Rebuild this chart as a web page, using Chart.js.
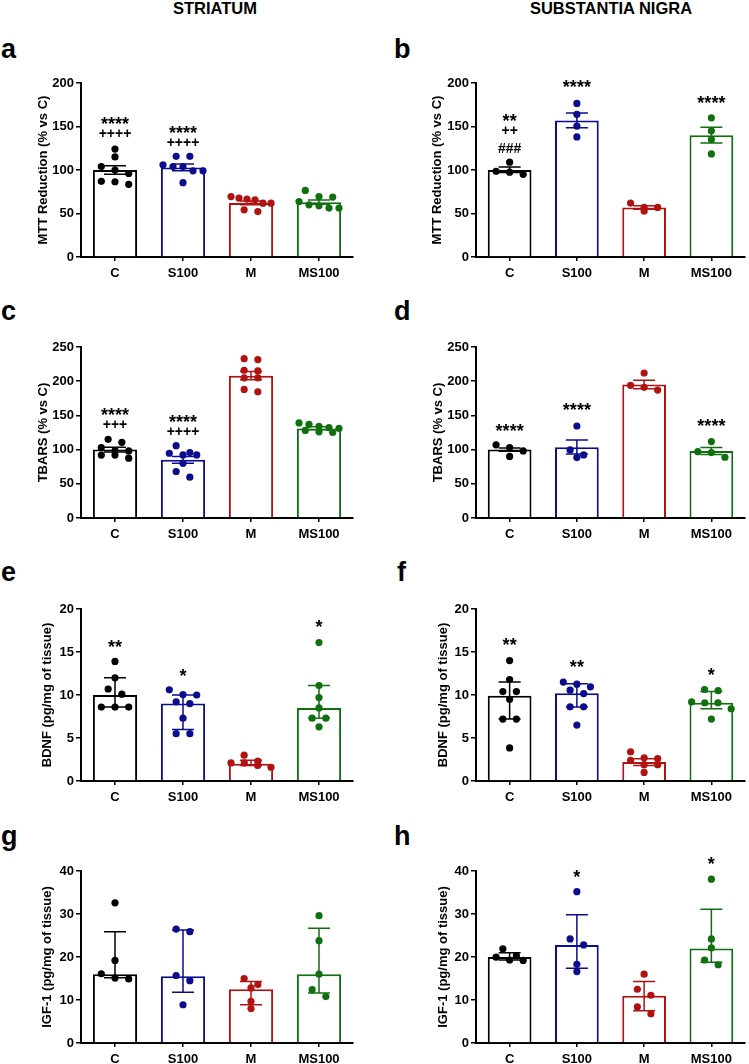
<!DOCTYPE html>
<html>
<head>
<meta charset="utf-8">
<script src="https://cdn.jsdelivr.net/npm/chart.js@4.4.1/dist/chart.umd.min.js"></script>
<style>
  body { margin: 0; background: #fff; width: 749px; height: 1064px; position: relative; overflow: hidden;
         font-family: "Liberation Sans", Arial, sans-serif; color: #000; }
  .hdr { position: absolute; top: 0; font-weight: bold; font-size: 16.5px; line-height: 1; transform: translateX(-50%); white-space: nowrap; }
  .lbl { position: absolute; font-weight: bold; font-size: 27px; line-height: 1; }
  canvas { position: absolute; }
</style>
</head>
<body>
<div class="hdr" style="left:215px">STRIATUM</div>
<div class="hdr" style="left:611px">SUBSTANTIA NIGRA</div>
<div class="lbl" style="left:1px;top:36px">a</div>
<div class="lbl" style="left:394px;top:36px">b</div>
<div class="lbl" style="left:1px;top:298px">c</div>
<div class="lbl" style="left:394px;top:298px">d</div>
<div class="lbl" style="left:1px;top:559px">e</div>
<div class="lbl" style="left:397px;top:559px">f</div>
<div class="lbl" style="left:1px;top:823px">g</div>
<div class="lbl" style="left:394px;top:823px">h</div>

<script>
// Groups
const categories = ['C', 'S100', 'M', 'MS100'];
const groupColors = ['#000000', '#0c0c8e', '#b01212', '#10700f'];

// a - striatum, MTT reduction (mean +/- SEM)
const aMean = [100, 103, 62, 63];
const aLo = [95, 99, 60, 60.7];
const aHi = [105, 107, 64.3, 65.5];
const aPoints = [
  [124, 115, 104, 100, 96, 87, 86.5, 83.5],
  [115.7, 115.7, 106, 104, 104, 99, 99, 85.4],
  [69.5, 67.7, 66.5, 65.7, 61.9, 61.9, 54.2, 52.2],
  [76.5, 69.5, 68.9, 63.8, 60, 58.8, 56.2, 56.2]
];
const aMarks = [[['****', 158.5], ['++++', 142]], [['****', 148], ['++++', 132]], [], []];

// b - substantia nigra, MTT reduction
const bMean = [100, 157, 57, 140];
const bLo = [97, 148.5, 55, 131];
const bHi = [103.5, 165.5, 59, 149];
const bPoints = [
  [109, 98.5, 97.5, 95],
  [176.5, 164, 150.5, 138],
  [62, 57, 57, 53],
  [160, 145, 135, 118.5]
];
const bMarks = [[['**', 161.4], ['++', 145.6], ['###', 125.5]], [['****', 200]], [], [['****', 182.6]]];

// c - striatum, TBARS
const cMean = [100, 85, 208, 131];
const cLo = [96.5, 80, 202, 129];
const cHi = [103.5, 90, 214, 133.5];
const cPoints = [
  [115, 110.7, 103, 98.5, 98, 92, 92, 87.4],
  [105.8, 95.6, 94.7, 92.2, 92.2, 80, 68, 59.7],
  [233, 231.6, 216, 215, 205, 205, 188, 184.5],
  [139, 137, 134, 132, 131, 128, 126, 125]
];
const cMarks = [[['****', 157.8], ['+++', 137.4]], [['****', 146.6], ['++++', 126.2]], [], []];

// d - substantia nigra, TBARS
const dMean = [100, 103.5, 195, 98];
const dLo = [97.5, 93.5, 189, 93];
const dHi = [102.5, 114, 201.5, 103];
const dPoints = [
  [107, 103, 98, 90],
  [134.5, 99.5, 92.2, 88.3],
  [212, 194, 191, 187],
  [111.7, 97, 95.6, 88.8]
];
const dMarks = [[['****', 133.5]], [['****', 165]], [], [['****', 140.8]]];

// e - striatum, BDNF (median, interquartile range)
const eMean = [10, 9, 2, 8.5];
const eLo = [8.6, 6, 1.8, 7.3];
const eHi = [12, 10, 2.4, 11.1];
const ePoints = [
  [13.9, 12, 10.7, 10.1, 8.6, 8.6, 8.6],
  [10.6, 10.05, 10, 9.2, 9, 7.3, 5.5, 5.5],
  [3.0, 2.3, 2.1, 2.1, 1.8, 1.6],
  [16.1, 11.1, 9.7, 8.5, 7.3, 7.3, 6.3]
];
const eMarks = [[['**', 16.1]], [['*', 12.7]], [], [['*', 18.4]]];

// f - substantia nigra, BDNF
const fMean = [9.9, 10.2, 2.2, 9.1];
const fLo = [7.2, 8.6, 1.8, 8.4];
const fHi = [11.5, 11.3, 2.6, 10.4];
const fPoints = [
  [14, 11.8, 10.4, 10.4, 9.5, 7.2, 7.2, 3.85],
  [11.5, 11.26, 10.95, 10.56, 10.17, 8.62, 8.62, 6.5],
  [3.4, 2.7, 2.6, 2.4, 1.9, 1.9, 1.0],
  [10.64, 10.5, 9.2, 9.1, 9.1, 8.4, 7.2]
];
const fMarks = [[['**', 16.3]], [['**', 13.8]], [], [['*', 12.9]]];

// g - striatum, IGF-1
const gMean = [16, 15.5, 12.5, 16];
const gLo = [15.2, 11.8, 8.9, 11.6];
const gHi = [25.9, 26.3, 14.3, 26.7];
const gPoints = [
  [32.6, 19.2, 16.1, 15.1, 14.9],
  [26.5, 25.9, 15.7, 14.5, 8.9],
  [15.0, 13.6, 12.8, 9.7, 8.0],
  [29.6, 23.8, 16.0, 12.4, 10.8]
];
const gMarks = [[], [], [], []];

// h - substantia nigra, IGF-1
const hMean = [20, 22.8, 11, 22];
const hLo = [19.3, 17.4, 7.5, 18.8];
const hHi = [21, 29.8, 14.3, 31.1];
const hPoints = [
  [21.9, 20.3, 19.96, 19.3, 19.2],
  [35.2, 24.2, 22.8, 18.3, 16.6],
  [16.0, 12.5, 11.1, 8.4, 6.8],
  [38.1, 24.2, 22.1, 19.3, 18.2]
];
const hMarks = [[], [['*', 39.7]], [], [['*', 42.6]]];

// y axes: max and tick step per row
const yMaxes = { ab: 200, cd: 250, ef: 20, gh: 40 };
const ySteps = { ab: 50, cd: 50, ef: 5, gh: 10 };
const yTitles = {
  ab: 'MTT Reduction (% vs C)',
  cd: 'TBARS (% vs C)',
  ef: 'BDNF (pg/mg of tissue)',
  gh: 'IGF-1 (pg/mg of tissue)'
};

Chart.defaults.font.family = '"Liberation Sans", Arial, sans-serif';
Chart.defaults.font.weight = 'bold';
Chart.defaults.font.size = 13;
Chart.defaults.color = '#000';

// page geometry of the plot boxes
const rowTop = [83, 347, 609, 871];
const rowZero = [257, 518, 781, 1043];
const colX = [0, 375];
const colW = [375, 374];
const plotX = [[81, 353], [476, 748]];

// spread points of similar value side by side, centred on the group
function swarm(values, pxPerUnit, catPx) {
  const order = values.map((v, i) => i).sort((p, q) => values[q] - values[p]);
  const offs = new Array(values.length).fill(0);
  let row = [];
  const flush = () => {
    const step = row.length > 1 ? Math.min(13.7, 40 / (row.length - 1)) : 0;
    row.forEach((idx, k) => { offs[idx] = (k - (row.length - 1) / 2) * step / catPx; });
    row = [];
  };
  order.forEach(idx => {
    if (row.length && (values[row[0]] - values[idx]) * pxPerUnit > 7) flush();
    row.push(idx);
  });
  flush();
  return offs;
}

const errorBars = {
  id: 'errorBars',
  afterDatasetDraw(chart, args, opts) {
    if (args.index !== 0) return;
    const { ctx, scales: { x, y } } = chart;
    ctx.save();
    ctx.lineWidth = 1.5;
    opts.lo.forEach((lo, i) => {
      const px = x.getPixelForValue(i);
      const y1 = y.getPixelForValue(lo), y2 = y.getPixelForValue(opts.hi[i]);
      ctx.strokeStyle = groupColors[i];
      ctx.beginPath();
      ctx.moveTo(px, y1); ctx.lineTo(px, y2);
      ctx.moveTo(px - 11, y1); ctx.lineTo(px + 11, y1);
      ctx.moveTo(px - 11, y2); ctx.lineTo(px + 11, y2);
      ctx.stroke();
    });
    ctx.restore();
  }
};

const sigMarks = {
  id: 'sigMarks',
  afterDraw(chart, args, opts) {
    const { ctx, scales: { x, y } } = chart;
    ctx.save();
    ctx.fillStyle = '#000';
    ctx.textAlign = 'center';
    ctx.textBaseline = 'alphabetic';
    opts.marks.forEach((list, i) => {
      list.forEach(([txt, v]) => {
        const star = txt[0] === '*';
        const size = star ? 18 : 14;
        ctx.font = 'bold ' + size + 'px "Liberation Sans", Arial, sans-serif';
        ctx.fillText(txt, x.getPixelForValue(i), y.getPixelForValue(v) + (star ? 0.58 : 0.34) * size);
      });
    });
    ctx.restore();
  }
};

function makePanel(row, col, titleX, yKey, mean, lo, hi, points, marks) {
  const top = rowTop[row] - 30;
  const height = rowZero[row] - rowTop[row] + 30 + 22;
  const [x0, x1] = plotX[col];
  const padL = titleX - colX[col] - 11.8;
  const canvas = document.createElement('canvas');
  canvas.width = colW[col];
  canvas.height = height;
  canvas.style.left = colX[col] + 'px';
  canvas.style.top = top + 'px';
  document.body.appendChild(canvas);

  const yMax = yMaxes[yKey];
  const pxPerUnit = (rowZero[row] - rowTop[row]) / yMax;
  const catPx = (x1 - x0) / categories.length;
  const scatter = [], scatterColors = [];
  points.forEach((vals, i) => {
    const offs = swarm(vals, pxPerUnit, catPx);
    vals.forEach((v, k) => {
      scatter.push({ x: i + offs[k], y: v });
      scatterColors.push(groupColors[i]);
    });
  });

  new Chart(canvas, {
    type: 'bar',
    data: {
      labels: categories,
      datasets: [{
        data: mean,
        backgroundColor: '#fff',
        borderColor: groupColors,
        borderWidth: 2,
        barPercentage: 0.65,
        categoryPercentage: 1,
        grouped: false,
        order: 1
      }, {
        type: 'scatter',
        data: scatter,
        xAxisID: 'xs',
        pointRadius: 3.6,
        pointBackgroundColor: scatterColors,
        pointBorderWidth: 0,
        order: 0
      }]
    },
    options: {
      responsive: false,
      animation: false,
      events: [],
      layout: { padding: { top: 30, left: padL, right: colX[col] + colW[col] - x1, bottom: 0 } },
      plugins: {
        legend: { display: false },
        tooltip: { enabled: false },
        errorBars: { lo: lo, hi: hi },
        sigMarks: { marks: marks }
      },
      scales: {
        x: {
          offset: true,
          grid: { offset: false, drawOnChartArea: false, color: '#000', lineWidth: 1.5, tickLength: 4 },
          border: { color: '#000', width: 2 },
          ticks: { padding: 5, font: { size: 13, weight: 'bold' } },
          afterFit: s => { s.height = 22; }
        },
        xs: { type: 'linear', min: -0.5, max: 3.5, offset: false, display: false },
        y: {
          min: 0,
          max: yMax,
          ticks: { stepSize: ySteps[yKey], padding: 2, font: { size: 13, weight: 'bold' } },
          grid: { drawOnChartArea: false, color: '#000', lineWidth: 1.5, tickLength: 5 },
          border: { color: '#000', width: 2 },
          title: { display: true, text: yTitles[yKey], font: { size: 13, weight: 'bold' }, padding: { top: 4, bottom: 4 } },
          afterFit: s => { s.width = x0 - colX[col] - padL; }
        }
      }
    },
    plugins: [errorBars, sigMarks]
  });
}

makePanel(0, 0, 43, 'ab', aMean, aLo, aHi, aPoints, aMarks);
makePanel(0, 1, 437, 'ab', bMean, bLo, bHi, bPoints, bMarks);
makePanel(1, 0, 43, 'cd', cMean, cLo, cHi, cPoints, cMarks);
makePanel(1, 1, 438, 'cd', dMean, dLo, dHi, dPoints, dMarks);
makePanel(2, 0, 47, 'ef', eMean, eLo, eHi, ePoints, eMarks);
makePanel(2, 1, 443, 'ef', fMean, fLo, fHi, fPoints, fMarks);
makePanel(3, 0, 47, 'gh', gMean, gLo, gHi, gPoints, gMarks);
makePanel(3, 1, 443, 'gh', hMean, hLo, hHi, hPoints, hMarks);
</script>
</body>
</html>
